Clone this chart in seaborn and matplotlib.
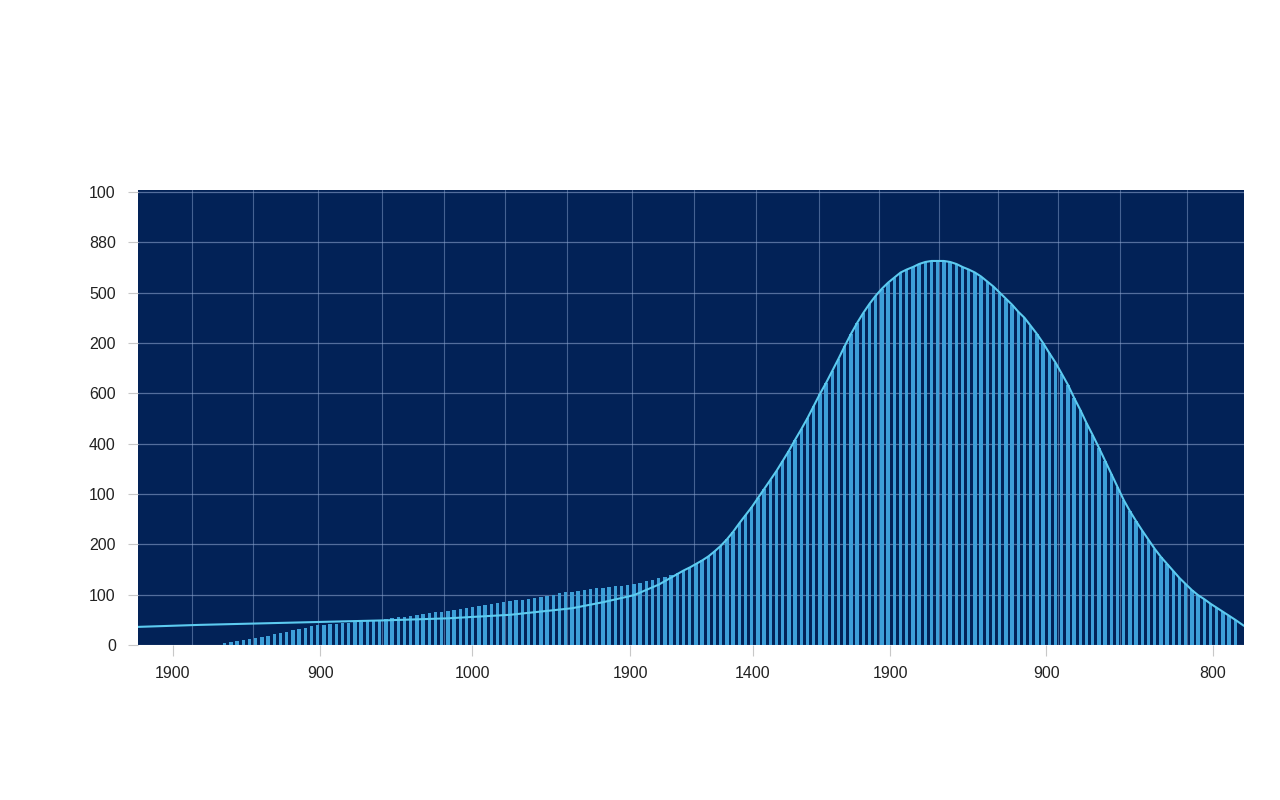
import numpy as np
import pandas as pd
import matplotlib
matplotlib.use("Agg")
import matplotlib.pyplot as plt
import seaborn as sns

# bar heights, one thin bar per slot (slot 14 .. 177)
bar_start = 14
bar_values = [
    4, 6, 8, 10, 12, 14, 16, 18, 22, 24, 26, 30, 32, 34, 38, 40,
    40, 42, 42, 44, 44, 46, 46, 48, 50, 50, 52, 54, 56, 56, 58, 60,
    62, 64, 66, 66, 68, 70, 72, 74, 76, 78, 80, 82, 83, 85, 87, 89,
    89, 91, 93, 95, 97, 99, 103, 105, 105, 107, 109, 111, 113, 113, 115, 117,
    117, 119, 121, 123, 127, 129, 133, 135, 139, 143, 148, 154, 161, 168, 176, 186,
    197, 210, 225, 242, 258, 274, 292, 310, 328, 346, 366, 386, 408, 429, 451, 475,
    499, 521, 545, 569, 594, 618, 640, 660, 678, 694, 708, 720, 730, 740, 746, 751,
    757, 761, 763, 763, 763, 761, 757, 751, 746, 740, 732, 722, 712, 700, 688, 676,
    662, 650, 634, 618, 600, 580, 561, 539, 517, 491, 467, 441, 417, 392, 366, 340,
    314, 288, 266, 246, 227, 209, 191, 175, 161, 147, 133, 121, 109, 99, 91, 82,
    74, 66, 58, 50,
]

# smooth curve: its own points on the left, then it follows the bar tops
curve_left_x = [0, 10, 20, 30, 40, 50, 60, 70, 75, 80, 84]
curve_left_y = [36, 40, 43, 46, 49, 53, 60, 73, 85, 99, 120]
curve_join = 88
curve_end_x = 178.4
curve_end_y = 38

# tick labels as they appear on the chart
x_tick_pos = [5.6, 29.4, 53.9, 79.4, 99.2, 121.3, 146.5, 173.4]
x_tick_labels = ["1900", "900", "1000", "1900", "1400", "1900", "900", "800"]
x_grid_pos = [8.7, 18.5, 29.0, 39.4, 49.4, 59.2, 69.2, 79.7, 89.7, 99.7,
              109.9, 119.5, 129.2, 138.7, 148.4, 158.4, 169.2]
y_tick_pos = [0, 100, 200, 300, 400, 500, 600, 700, 800, 900]
y_tick_labels = ["0", "100", "200", "100", "400", "600", "200", "500", "880", "100"]

bar_x = np.arange(bar_start, bar_start + len(bar_values))
bars = pd.DataFrame({"x": bar_x, "y": bar_values})

curve_x = curve_left_x + list(bar_x[curve_join - bar_start:]) + [curve_end_x]
curve_y = curve_left_y + bar_values[curve_join - bar_start:] + [curve_end_y]
curve = pd.DataFrame({"x": curve_x, "y": curve_y})

sns.set_theme(style="white")
plt.rcParams["font.family"] = ["Liberation Sans", "DejaVu Sans"]

fig = plt.figure(figsize=(12.8, 8), dpi=100)
ax = fig.add_axes([138 / 1280, 155 / 800, 1106 / 1280, 455 / 800])
ax.set_facecolor("#022257")

sns.barplot(data=bars, x="x", y="y", native_scale=True, width=0.55,
            color="#3d9fd8", saturation=1, errorbar=None, ax=ax, zorder=2,
            edgecolor="none", linewidth=0)
sns.lineplot(data=curve, x="x", y="y", sort=False, color="#5ccbf0",
             linewidth=1.5, ax=ax, zorder=3)

ax.set_xlim(0, 178.4)
ax.set_ylim(0, 904)

ax.set_xticks(x_tick_pos)
ax.set_xticklabels(x_tick_labels)
ax.set_xticks(x_grid_pos, minor=True)
ax.set_yticks(y_tick_pos)
ax.set_yticklabels(y_tick_labels)

ax.grid(False)
ax.grid(True, axis="x", which="minor", color="#7d97c4", linewidth=0.8, alpha=0.55, zorder=0)
ax.grid(True, axis="y", which="major", color="#8aa2cc", linewidth=0.9, alpha=0.6, zorder=0)
ax.set_axisbelow(True)

ax.tick_params(axis="x", which="major", length=8, width=0.8, color="#c8c8c8",
               pad=7, labelsize=11.5, labelcolor="#222222", bottom=True)
ax.tick_params(axis="x", which="minor", length=0)
ax.tick_params(axis="y", length=7, width=0.8, color="#c8c8c8",
               pad=9, labelsize=11.5, labelcolor="#222222", left=True)

for s in ax.spines.values():
    s.set_visible(False)

ax.set_xlabel("")
ax.set_ylabel("")

fig.savefig("out.png", dpi=100)
